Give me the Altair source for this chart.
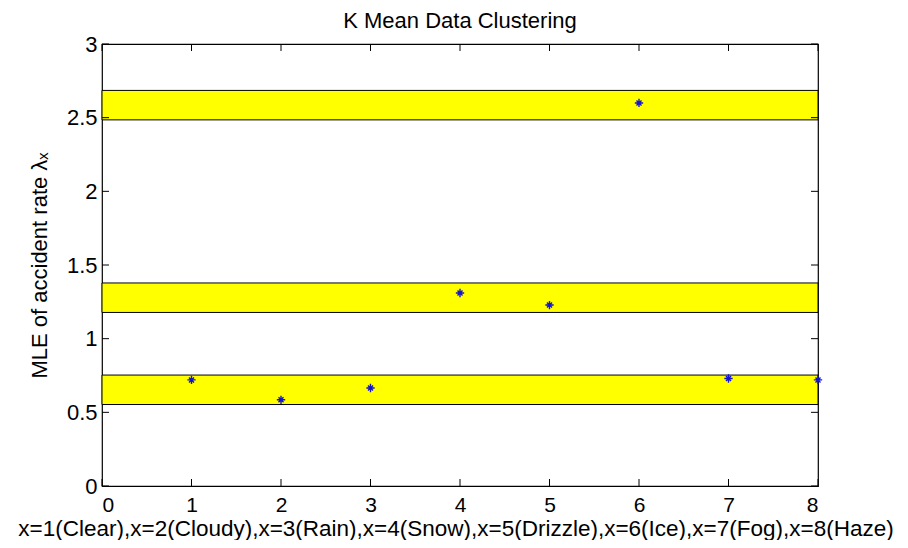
import altair as alt
import pandas as pd

# data
weather_x = [1, 2, 3, 4, 5, 6, 7, 8]
mle_rate = [0.72, 0.585, 0.665, 1.31, 1.228, 2.60, 0.73, 0.72]
band_low = [0.553, 1.178, 2.485]
band_high = [0.753, 1.378, 2.685]
x_ticks = [0, 1, 2, 3, 4, 5, 6, 7, 8]
y_ticks = [0, 0.5, 1, 1.5, 2, 2.5, 3]

W, H = 716, 442
FONT = "Liberation Sans"

pts = pd.DataFrame({"x": weather_x, "y": mle_rate})
bands = pd.DataFrame({"lo": band_low, "hi": band_high, "x0": [0] * 3, "x1": [8] * 3})
xt = pd.DataFrame({"v": x_ticks})
yt = pd.DataFrame({"v": y_ticks})

xscale = alt.Scale(domain=[0, 8], nice=False, zero=False)
yscale = alt.Scale(domain=[0, 3], nice=False, zero=False)

XTITLE = "x=1(Clear),x=2(Cloudy),x=3(Rain),x=4(Snow),x=5(Drizzle),x=6(Ice),x=7(Fog),x=8(Haze)"
YTITLE = "MLE of accident rate λₓ"

xaxis = alt.Axis(values=x_ticks, ticks=False, domain=False, grid=False,
                 labelFont=FONT, labelFontSize=21, labelColor="black",
                 labelBaseline="alphabetic", labelPadding=25,
                 title=XTITLE, titleX=353.5, titleY=49, titleBaseline="alphabetic",
                 titleFont=FONT, titleFontSize=22.5, titleFontWeight="normal", titleColor="black")
yaxis = alt.Axis(values=y_ticks, ticks=False, domain=False, grid=False, format="~g",
                 labelFont=FONT, labelFontSize=22, labelColor="black", labelPadding=5,
                 title=YTITLE,
                 titleFont=FONT, titleFontSize=22, titleFontWeight="normal", titleColor="black",
                 titlePadding=15)

band_layer = alt.Chart(bands).mark_rect(fill="#FFFF00", stroke="black", strokeWidth=1).encode(
    x=alt.X("x0:Q", scale=xscale, axis=xaxis, title=XTITLE),
    x2="x1:Q",
    y=alt.Y("lo:Q", scale=yscale, axis=yaxis, title=YTITLE),
    y2="hi:Q",
)

xt_bottom = alt.Chart(xt).mark_rule(color="black", strokeWidth=1).encode(
    x=alt.X("v:Q", scale=xscale, axis=xaxis, title=XTITLE), y=alt.value(H), y2=alt.value(H - 7))
xt_top = alt.Chart(xt).mark_rule(color="black", strokeWidth=1).encode(
    x=alt.X("v:Q", scale=xscale, axis=xaxis, title=XTITLE), y=alt.value(0), y2=alt.value(7))
yt_left = alt.Chart(yt).mark_rule(color="black", strokeWidth=1).encode(
    y=alt.Y("v:Q", scale=yscale, axis=yaxis, title=YTITLE), x=alt.value(0), x2=alt.value(7))
yt_right = alt.Chart(yt).mark_rule(color="black", strokeWidth=1).encode(
    y=alt.Y("v:Q", scale=yscale, axis=yaxis, title=YTITLE), x=alt.value(W - 7), x2=alt.value(W))

asterisk = "M0,-1L0,1M-1,0L1,0M-0.6,-0.6L0.6,0.6M-0.6,0.6L0.6,-0.6"
point_layer = alt.Chart(pts).mark_point(shape=asterisk, size=70, stroke="#1414C8",
                                        strokeWidth=1.4, filled=False, opacity=1).encode(
    x=alt.X("x:Q", scale=xscale, axis=xaxis, title=XTITLE),
    y=alt.Y("y:Q", scale=yscale, axis=yaxis, title=YTITLE),
)

chart = alt.layer(band_layer, xt_bottom, xt_top, yt_left, yt_right, point_layer).properties(
    width=W, height=H,
    title=alt.TitleParams("K Mean Data Clustering", font=FONT, fontSize=22,
                          fontWeight="normal", color="black", offset=0),
    autosize="none",
    padding={"left": 94, "top": 36, "right": 82, "bottom": 54},
).configure(background="white").configure_view(stroke="black", strokeWidth=1.2)

chart.save("out.html", embed_options={"renderer": "svg", "actions": False})
